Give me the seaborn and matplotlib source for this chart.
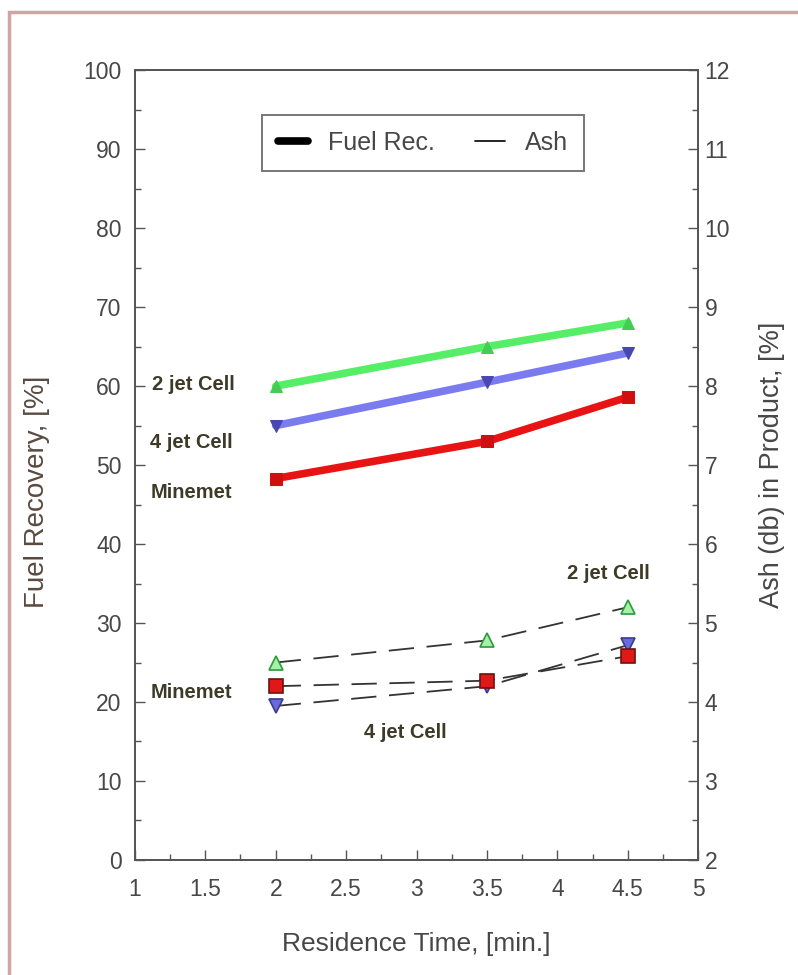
import matplotlib as mpl
mpl.use('agg')
import matplotlib.pyplot as plt
from matplotlib.lines import Line2D
from matplotlib.patches import Rectangle
from matplotlib.ticker import MultipleLocator
import numpy as np
import pandas as pd
import seaborn as sns

# Data
time_min = [2, 3.5, 4.5]
cells = ["2 jet Cell", "4 jet Cell", "Minemet"]
fuel_rec_2jet = [60.0, 65.0, 68.0]
fuel_rec_4jet = [55.0, 60.5, 64.2]
fuel_rec_minemet = [48.3, 53.0, 58.6]
ash_2jet = [4.5, 4.78, 5.2]
ash_4jet = [3.95, 4.2, 4.72]
ash_minemet = [4.2, 4.27, 4.58]

sns.set_style("ticks")
plt.rcParams['font.family'] = ['Liberation Sans', 'DejaVu Sans']
plt.rcParams['xtick.direction'] = 'in'
plt.rcParams['ytick.direction'] = 'in'

txt_col = '#474747'
lab_col = '#3e3a28'
colors = {"2 jet Cell": '#55ee66', "4 jet Cell": '#7b7bf0', "Minemet": '#e81414'}
mk_col = {"2 jet Cell": '#44cc55', "4 jet Cell": '#4848b0', "Minemet": '#d01010'}
markers = {"2 jet Cell": '^', "4 jet Cell": 'v', "Minemet": 's'}

fuel = pd.DataFrame({"time": time_min * 3,
                     "cell": np.repeat(cells, 3),
                     "value": fuel_rec_2jet + fuel_rec_4jet + fuel_rec_minemet})
ash = pd.DataFrame({"time": time_min * 3,
                    "cell": np.repeat(cells, 3),
                    "value": ash_2jet + ash_4jet + ash_minemet})

fig = plt.figure(figsize=(7.98, 9.75), dpi=100)
ax = fig.add_axes([0.169, 0.118, 0.706, 0.810])
ax2 = ax.twinx()

# fuel recovery: thick solid lines
for c in cells:
    d = fuel[fuel.cell == c]
    sns.lineplot(data=d, x="time", y="value", ax=ax, color=colors[c], lw=5.5,
                 marker=markers[c], markersize=8, markerfacecolor=mk_col[c],
                 markeredgecolor=mk_col[c], legend=False)

# ash: thin dashed lines on right axis
ash_face = {"2 jet Cell": '#a8f0a8', "4 jet Cell": '#6a6ae0', "Minemet": '#e01818'}
ash_edge = {"2 jet Cell": '#2a9a3a', "4 jet Cell": '#3a3a90', "Minemet": '#701010'}
for c in cells:
    d = ash[ash.cell == c]
    sns.lineplot(data=d, x="time", y="value", ax=ax2, color='#333333', lw=1.3,
                 marker=markers[c], markersize=10,
                 markerfacecolor=ash_face[c], markeredgecolor=ash_edge[c],
                 markeredgewidth=1.2, legend=False)
for l in ax2.lines:
    l.set_dashes((14, 7))

ax.set_xlim(1, 5)
ax.set_ylim(0, 100)
ax2.set_ylim(2, 12)
ax.xaxis.set_major_locator(MultipleLocator(0.5))
ax.xaxis.set_minor_locator(MultipleLocator(0.25))
ax.yaxis.set_major_locator(MultipleLocator(10))
ax.yaxis.set_minor_locator(MultipleLocator(5))
ax2.yaxis.set_major_locator(MultipleLocator(1))
ax2.yaxis.set_minor_locator(MultipleLocator(0.5))
ax.set_xticks([1, 1.5, 2, 2.5, 3, 3.5, 4, 4.5, 5])
ax.set_xticklabels(['1', '1.5', '2', '2.5', '3', '3.5', '4', '4.5', '5'])

for a in (ax, ax2):
    a.tick_params(which='major', length=7, width=1, colors='#555555', labelcolor=txt_col, labelsize=16.5)
    a.tick_params(which='minor', length=4, width=1, colors='#555555')
    for s in a.spines.values():
        s.set_color('#555555')
        s.set_linewidth(1.3)
ax.tick_params(axis='x', pad=13)
ax.tick_params(axis='y', pad=9.5)
ax2.tick_params(axis='y', pad=4.5)

ax.set_xlabel("Residence Time, [min.]", fontsize=19, color=txt_col, labelpad=22)
ax.set_ylabel("Fuel Recovery, [%]", fontsize=20, color='#5a4a42')
ax.yaxis.set_label_coords(-0.151, 0.466)
ax2.set_ylabel("Ash (db) in Product, [%]", fontsize=19.5, color=txt_col, labelpad=21)

# series labels
lab_kw = dict(fontsize=14.5, fontweight='bold', color=lab_col, va='center', ha='left')
ax.text(1.12, 60.2, "2 jet Cell", **lab_kw)
ax.text(1.11, 52.8, "4 jet Cell", **lab_kw)
ax.text(1.11, 46.5, "Minemet", **lab_kw)
ax2.text(1.11, 4.12, "Minemet", **lab_kw)
ax2.text(2.63, 3.61, "4 jet Cell", **lab_kw)
ax2.text(4.07, 5.63, "2 jet Cell", **lab_kw)

handles = [Line2D([], [], color='black', lw=5.5),
           Line2D([], [], color='black', lw=1.2)]
leg = ax.legend(handles, ["Fuel Rec.", "Ash"], loc='center',
                bbox_to_anchor=(0.511, 0.9076), ncol=2, frameon=True,
                fancybox=False, fontsize=18, handlelength=1.2, handletextpad=0.8,
                columnspacing=1.6, borderpad=0.65, borderaxespad=0)
leg.get_frame().set_edgecolor('#555555')
leg.get_frame().set_linewidth(1.4)
for t in leg.get_texts():
    t.set_color(txt_col)

# page border
fig.patches.append(Rectangle((0.011, -0.05), 1.1, 1.038, transform=fig.transFigure,
                             fill=False, edgecolor='#d4a4a4', lw=2.5))

plt.savefig("out.png", dpi=100)
